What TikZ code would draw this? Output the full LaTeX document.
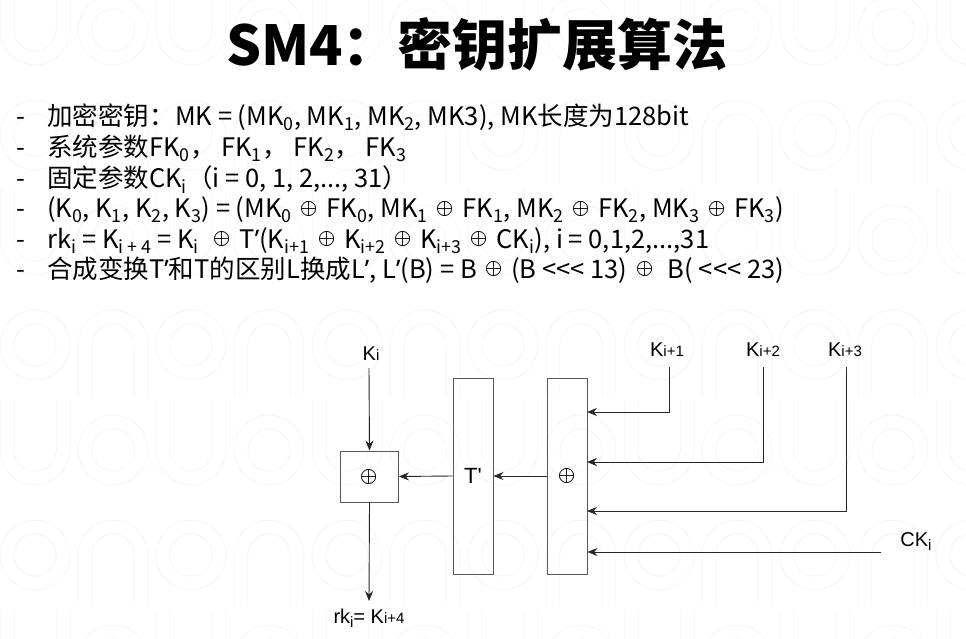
\documentclass[tikz,border=0pt]{standalone}
\usepackage{fontspec}
\setmainfont{Noto Sans CJK SC}
\newfontfamily\diagfont{Liberation Sans}
\newfontfamily\latinf{Noto Sans}
\newfontfamily\lmm{latinmodern-math.otf}
\usetikzlibrary{arrows.meta}
% XOR sign, narrow apostrophe and subscripts used in the text lines
\newcommand\xo{\hspace{3pt}\raisebox{3.5pt}{\lmm\fontsize{22}{24}\selectfont ⊕}\hspace{3pt}}
\newcommand\ap{{\latinf ’}}
\newcommand\lo[1]{\textsubscript{#1}}
% diagram label: big letter followed by a smaller index
\newcommand\kl[2]{#1{\fontsize{15}{16}\selectfont #2}}

\begin{document}
\begin{tikzpicture}[x=1pt,y=-1pt,
  wm/.style={draw=black!5, line width=0.7pt, double=white, double distance=13pt},
  box/.style={draw=black!65, line width=0.9pt, inner sep=0pt},
  wire/.style={draw=black!85, line width=0.9pt},
  arr/.style={wire, -{Stealth[length=10pt,width=8pt]}},
  lbl/.style={font=\diagfont\fontsize{20}{22}\selectfont, inner sep=0pt},
  txt/.style={anchor=base west, inner sep=0pt, font=\fontsize{25.5}{28}\selectfont},
  xsym/.style={font=\lmm\fontsize{22}{24}\selectfont},
]
\fill[white] (0,0) rectangle (966,639);
\useasboundingbox (0,0) rectangle (966,639);

% faint lettering pattern in the background
\begin{scope}
\clip (0,0) rectangle (966,639);
\foreach \r in {0,...,6}{
  \foreach \c in {0,...,12}{
    \pgfmathsetmacro\cx{35+78*\c}
    \pgfmathsetmacro\cy{30+105*\r}
    \pgfmathtruncatemacro\k{mod(\r+\c,2)}
    \ifnum\k=0
      \ifodd\r
        \draw[wm] (\cx-28,\cy+50) -- (\cx-28,\cy) arc[start angle=180,end angle=360,radius=28] -- (\cx+28,\cy+50);
      \else
        \draw[wm] (\cx-28,\cy-50) -- (\cx-28,\cy) arc[start angle=180,end angle=0,radius=28] -- (\cx+28,\cy-50);
      \fi
    \else
      \draw[wm] (\cx,\cy) circle[radius=28];
    \fi
  }
}
\end{scope}

% title
\node[anchor=base, inner sep=0pt, font=\fontsize{55}{60}\selectfont\bfseries] (title) at (477,66) {SM4：密钥扩展算法};

% list of definitions
\foreach \y [count=\i] in {126,157,188,218,248,278}{
  \node[txt] (d\i) at (16,\y) {-};
}
\node[txt] (l1) at (47,126) {\makebox[128pt][l]{加密密钥：}MK = (MK\lo{0}, MK\lo{1}, MK\lo{2}, MK3), MK长度为128bit};
\node[txt] (l2) at (47,157) {系统参数FK\lo{0}，\ FK\lo{1}，\ FK\lo{2}，\ FK\lo{3}};
\node[txt] (l3) at (47,188) {固定参数CK\lo{i}（i = 0, 1, 2,..., 31）};
\node[txt] (l4) at (47,218) {(K\lo{0}, K\lo{1}, K\lo{2}, K\lo{3}) = (MK\lo{0} \xo{} FK\lo{0}, MK\lo{1} \xo{} FK\lo{1}, MK\lo{2} \xo{} FK\lo{2}, MK\lo{3} \xo{} FK\lo{3})};
\node[txt] (l5) at (47,248) {rk\lo{i} = K\lo{i + 4} = K\lo{i}\ \ \xo{} T\ap(K\lo{i+1} \xo{} K\lo{i+2} \xo{} K\lo{i+3} \xo{} CK\lo{i}), i = 0,1,2,...,31};
\node[txt] (l6) at (47,278) {合成变换T\ap 和T的区别L换成L\ap, L\ap(B) = B \xo{} (B <{}<{}< 13) \xo{}\ \ B( <{}<{}< 23)};

% key expansion round
\node[box, xsym, minimum width=58pt, minimum height=51pt] (xl) at (369.5,476.5) {⊕};
\node[box, minimum width=40pt, minimum height=196pt] (tp) at (473,476) {\diagfont\fontsize{22}{24}\selectfont T'};
\node[box, xsym, minimum width=40pt, minimum height=196pt] (xr) at (567,476) {⊕};

\node[lbl] (ki)  at (371,354) {\kl{K}{i}};
\node[lbl] (ki1) at (667,350) {\kl{K}{i+1}};
\node[lbl] (ki2) at (763,350) {\kl{K}{i+2}};
\node[lbl] (ki3) at (845,350) {\kl{K}{i+3}};
\node[lbl] (ck)  at (916,542) {CK{\fontsize{15}{16}\selectfont\raisebox{-4pt}{i}}};
\node[lbl] (rk)  at (369,618) {rk{\fontsize{15}{16}\selectfont\raisebox{-4pt}{i}}= \kl{K}{i+4}};

\coordinate (kitop) at (369,368);
\coordinate (k1top) at (669,367);
\coordinate (k2top) at (763,367);
\coordinate (k3top) at (846,367);
\coordinate (ckend) at (881,552);
\coordinate (rkend) at (369,601);
\coordinate (in1) at (587,412);
\coordinate (in2) at (587,462);
\coordinate (in3) at (587,511);

\draw[arr] (kitop) -- (xl.north);
\draw[arr] (xl.south) -- (rkend);
\draw[arr] (tp.west) -- (xl.east);
\draw[arr] (xr.west) -- (tp.east);
\draw[arr] (k1top) |- (in1);
\draw[arr] (k2top) |- (in2);
\draw[arr] (k3top) |- (in3);
\draw[arr] (ckend) -- (ckend -| xr.east);
\end{tikzpicture}
\end{document}
